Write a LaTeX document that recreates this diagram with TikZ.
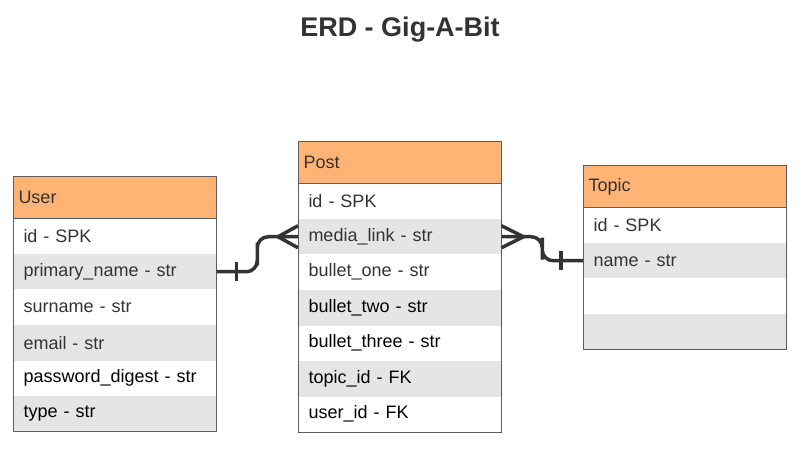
\documentclass[tikz,border=0pt]{standalone}
\usepackage{fontspec}
\setmainfont{Liberation Sans}
\usetikzlibrary{positioning,calc}
\definecolor{hdrorange}{HTML}{FFB375}
\definecolor{rowgray}{HTML}{E5E5E5}
\definecolor{edgegray}{HTML}{5E5E5E}
\definecolor{inkgray}{HTML}{333333}
\newcommand{\fieldfont}{\fontsize{18}{21}\selectfont}
\tikzset{
  tblhead/.style ={rectangle, fill=hdrorange, text=inkgray, font=\fieldfont,
                   inner xsep=5.5pt, inner ysep=0pt, outer sep=0pt,
                   text width=192.5pt, minimum height=41.5pt, align=left},
  fieldrow/.style={rectangle, font=\fieldfont, inner xsep=10.5pt, inner ysep=0pt,
                   outer sep=0pt, text width=182.5pt, minimum height=35.5pt, align=left},
}

\begin{document}
\begin{tikzpicture}[x=1pt, y=-1pt,
  frame/.style={line width=1pt, edgegray},
  rel/.style={line width=3.5pt, inkgray},
  bar/.style={line width=3.5pt, inkgray}
]
\useasboundingbox (0,0) rectangle (801,449);

%--- Title ---
\node[anchor=base, text=inkgray, font=\bfseries\fontsize{27}{31}\selectfont] (title) at (400,36.5) {ERD - Gig-A-Bit};

%--- User table ---
\node[tblhead, anchor=north west] (u0) at (13,177) {User};
\foreach \i/\fld/\bg/\tc in {1/id - SPK/white/inkgray, 2/primary\_name - str/rowgray/inkgray,
    3/surname - str/white/inkgray, 4/email - str/rowgray/inkgray,
    5/password\_digest - str/white/black, 6/type - str/rowgray/black}{
  \pgfmathtruncatemacro\prev{\i-1}
  \node[fieldrow, fill=\bg, text=\tc, below=0pt of u\prev] (u\i) {\fld};
}
\draw[frame] (u0.north west) rectangle (u6.south east);
\draw[frame] (u0.south west) -- (u0.south east);

%--- Post table ---
\node[tblhead, anchor=north west] (p0) at (298,142) {Post};
\foreach \i/\fld/\bg/\tc in {1/id - SPK/white/inkgray, 2/media\_link - str/rowgray/inkgray,
    3/bullet\_one - str/white/inkgray, 4/bullet\_two - str/rowgray/black,
    5/bullet\_three - str/white/black, 6/topic\_id - FK/rowgray/black,
    7/user\_id - FK/white/black}{
  \pgfmathtruncatemacro\prev{\i-1}
  \node[fieldrow, fill=\bg, text=\tc, below=0pt of p\prev] (p\i) {\fld};
}
\draw[frame] (p0.north west) rectangle (p7.south east);
\draw[frame] (p0.south west) -- (p0.south east);

%--- Topic table ---
\node[tblhead, anchor=north west] (t0) at (583,166) {Topic};
\foreach \i/\fld/\bg/\tc in {1/id - SPK/white/inkgray, 2/name - str/rowgray/inkgray,
    3//white/inkgray, 4//rowgray/inkgray}{
  \pgfmathtruncatemacro\prev{\i-1}
  \node[fieldrow, fill=\bg, text=\tc, below=0pt of t\prev] (t\i) {\fld};
}
\draw[frame] (t0.north west) rectangle (t4.south east);
\draw[frame] (t0.south west) -- (t0.south east);

%--- User (one) -- Post (many) ---
\draw[rel, rounded corners=11pt] (u2.east) -| ($(u2.east)!.5!(p2.west)$) |- (p2.west);
\draw[bar] ($(u2.east)+(20,-9.5)$) -- ($(u2.east)+(20,9.5)$);
\coordinate (pL) at ($(p2.west)+(-20,0)$);
\draw[rel] ($(p2.west)+(0,-11)$) -- (pL) -- ($(p2.west)+(0,11)$);

%--- Post (many) -- Topic (one) ---
\draw[rel, rounded corners=11pt] (p2.east) -| ($(p2.east)!.5!(t2.west)$) |- (t2.west);
\draw[bar] ($(t2.west)+(-22,-9.5)$) -- ($(t2.west)+(-22,9.5)$);
\coordinate (pR) at ($(p2.east)+(22,0)$);
\draw[rel] ($(p2.east)+(0,-11)$) -- (pR) -- ($(p2.east)+(0,11)$);

\end{tikzpicture}
\end{document}
